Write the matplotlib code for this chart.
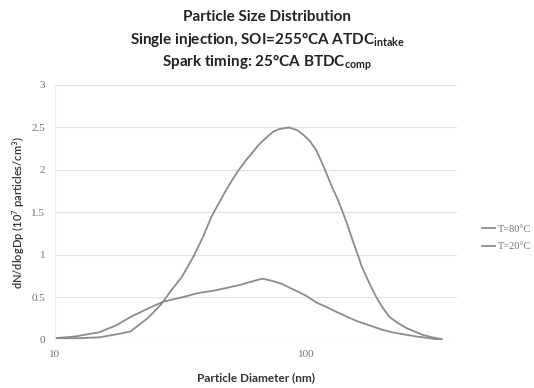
import numpy as np
import matplotlib
matplotlib.use('Agg')
import matplotlib.pyplot as plt
from matplotlib.ticker import FixedLocator, NullLocator

# T=80 C series (diameter nm, dN/dlogDp in 1e7 particles/cm3)
d80 = [10, 12.5, 15, 17.9, 20, 23.5, 26.5, 29, 32, 35.6, 39, 42, 45, 48,
       51, 54, 57.5, 61, 65, 70, 74, 78, 85.5, 92, 97, 103, 110, 116, 127,
       133, 139, 146, 153, 160, 167, 178, 190, 202, 215, 232, 251, 270,
       291, 318, 347]
v80 = [0.02, 0.02, 0.03, 0.07, 0.10, 0.26, 0.42, 0.58, 0.74, 0.98, 1.22,
       1.45, 1.61, 1.76, 1.89, 2.00, 2.11, 2.20, 2.30, 2.39, 2.45, 2.48,
       2.50, 2.47, 2.42, 2.35, 2.23, 2.08, 1.80, 1.67, 1.53, 1.36, 1.18,
       1.02, 0.86, 0.68, 0.51, 0.38, 0.27, 0.20, 0.14, 0.10, 0.06, 0.03,
       0.01]

# T=20 C series
d20 = [10, 12, 15, 17.5, 20, 23.5, 27, 32, 37, 43, 48, 55, 58, 63, 67, 72,
       76, 80, 88, 94, 100, 110, 120, 130, 149, 160, 175, 201, 220, 240,
       275, 310, 347]
v20 = [0.02, 0.04, 0.09, 0.17, 0.27, 0.37, 0.45, 0.50, 0.55, 0.58, 0.61,
       0.65, 0.67, 0.70, 0.72, 0.70, 0.68, 0.66, 0.60, 0.56, 0.52, 0.44,
       0.39, 0.34, 0.26, 0.22, 0.18, 0.12, 0.09, 0.07, 0.04, 0.02, 0.0]

yticks = [0, 0.5, 1, 1.5, 2, 2.5, 3]
ytick_labels = ['0', '0.5', '1', '1.5', '2', '2.5', '3']
xticks = [10, 100]

title_font = 'Lato'
tick_font = 'Liberation Serif'

fig = plt.figure(figsize=(5.34, 3.88), dpi=100)
ax = fig.add_axes([0.103, 0.124, 0.753, 0.657])

line_col = '#8c8c8c'
ax.plot(d80, v80, color=line_col, lw=1.3, label='T=80°C', solid_joinstyle='round')
ax.plot(d20, v20, color=line_col, lw=1.3, label='T=20°C', solid_joinstyle='round')

ax.set_xscale('log')
ax.set_xlim(10, 400)
ax.set_ylim(0, 3)
ax.xaxis.set_major_locator(FixedLocator(xticks))
ax.xaxis.set_minor_locator(NullLocator())
ax.set_xticklabels([str(x) for x in xticks])
ax.set_yticks(yticks)
ax.set_yticklabels(ytick_labels)

for lab in ax.get_xticklabels() + ax.get_yticklabels():
    lab.set_fontfamily(tick_font)
    lab.set_fontsize(8)
    lab.set_color('#707070')
ax.tick_params(length=0, pad=7)

ax.grid(axis='y', color='#e2e2e2', lw=0.8)
ax.set_axisbelow(True)
for s in ['top', 'right', 'bottom']:
    ax.spines[s].set_visible(False)
ax.spines['left'].set_color('#ececec')
ax.spines['left'].set_linewidth(0.8)

ax.set_xlabel('Particle Diameter (nm)', family=title_font, fontsize=8.5,
              weight='bold', color='#333333', labelpad=10)
ax.set_ylabel('dN/dlogDp (10$^{\\mathregular{7}}$ particles/cm$^{\\mathregular{3}}$)',
              family=title_font, fontsize=8, weight='semibold', color='#333333',
              labelpad=3)

title_kw = dict(ha='center', va='center', family=title_font, fontsize=11,
                weight='bold', color='#222222')
fig.text(0.5, 0.956, 'Particle Size Distribution', **title_kw)
fig.text(0.5, 0.897, 'Single injection, SOI=255°CA ATDC$_{\\mathregular{intake}}$', **title_kw)
fig.text(0.5, 0.838, 'Spark timing: 25°CA BTDC$_{\\mathregular{comp}}$', **title_kw)

leg = ax.legend(loc='center left', bbox_to_anchor=(0.895, 0.387),
                bbox_transform=fig.transFigure, frameon=False,
                prop={'family': tick_font, 'size': 7.5}, handlelength=1.2,
                handletextpad=0.3, labelspacing=0.8, borderaxespad=0)
for t in leg.get_texts():
    t.set_color('#707070')

plt.savefig('out.png', dpi=100)
